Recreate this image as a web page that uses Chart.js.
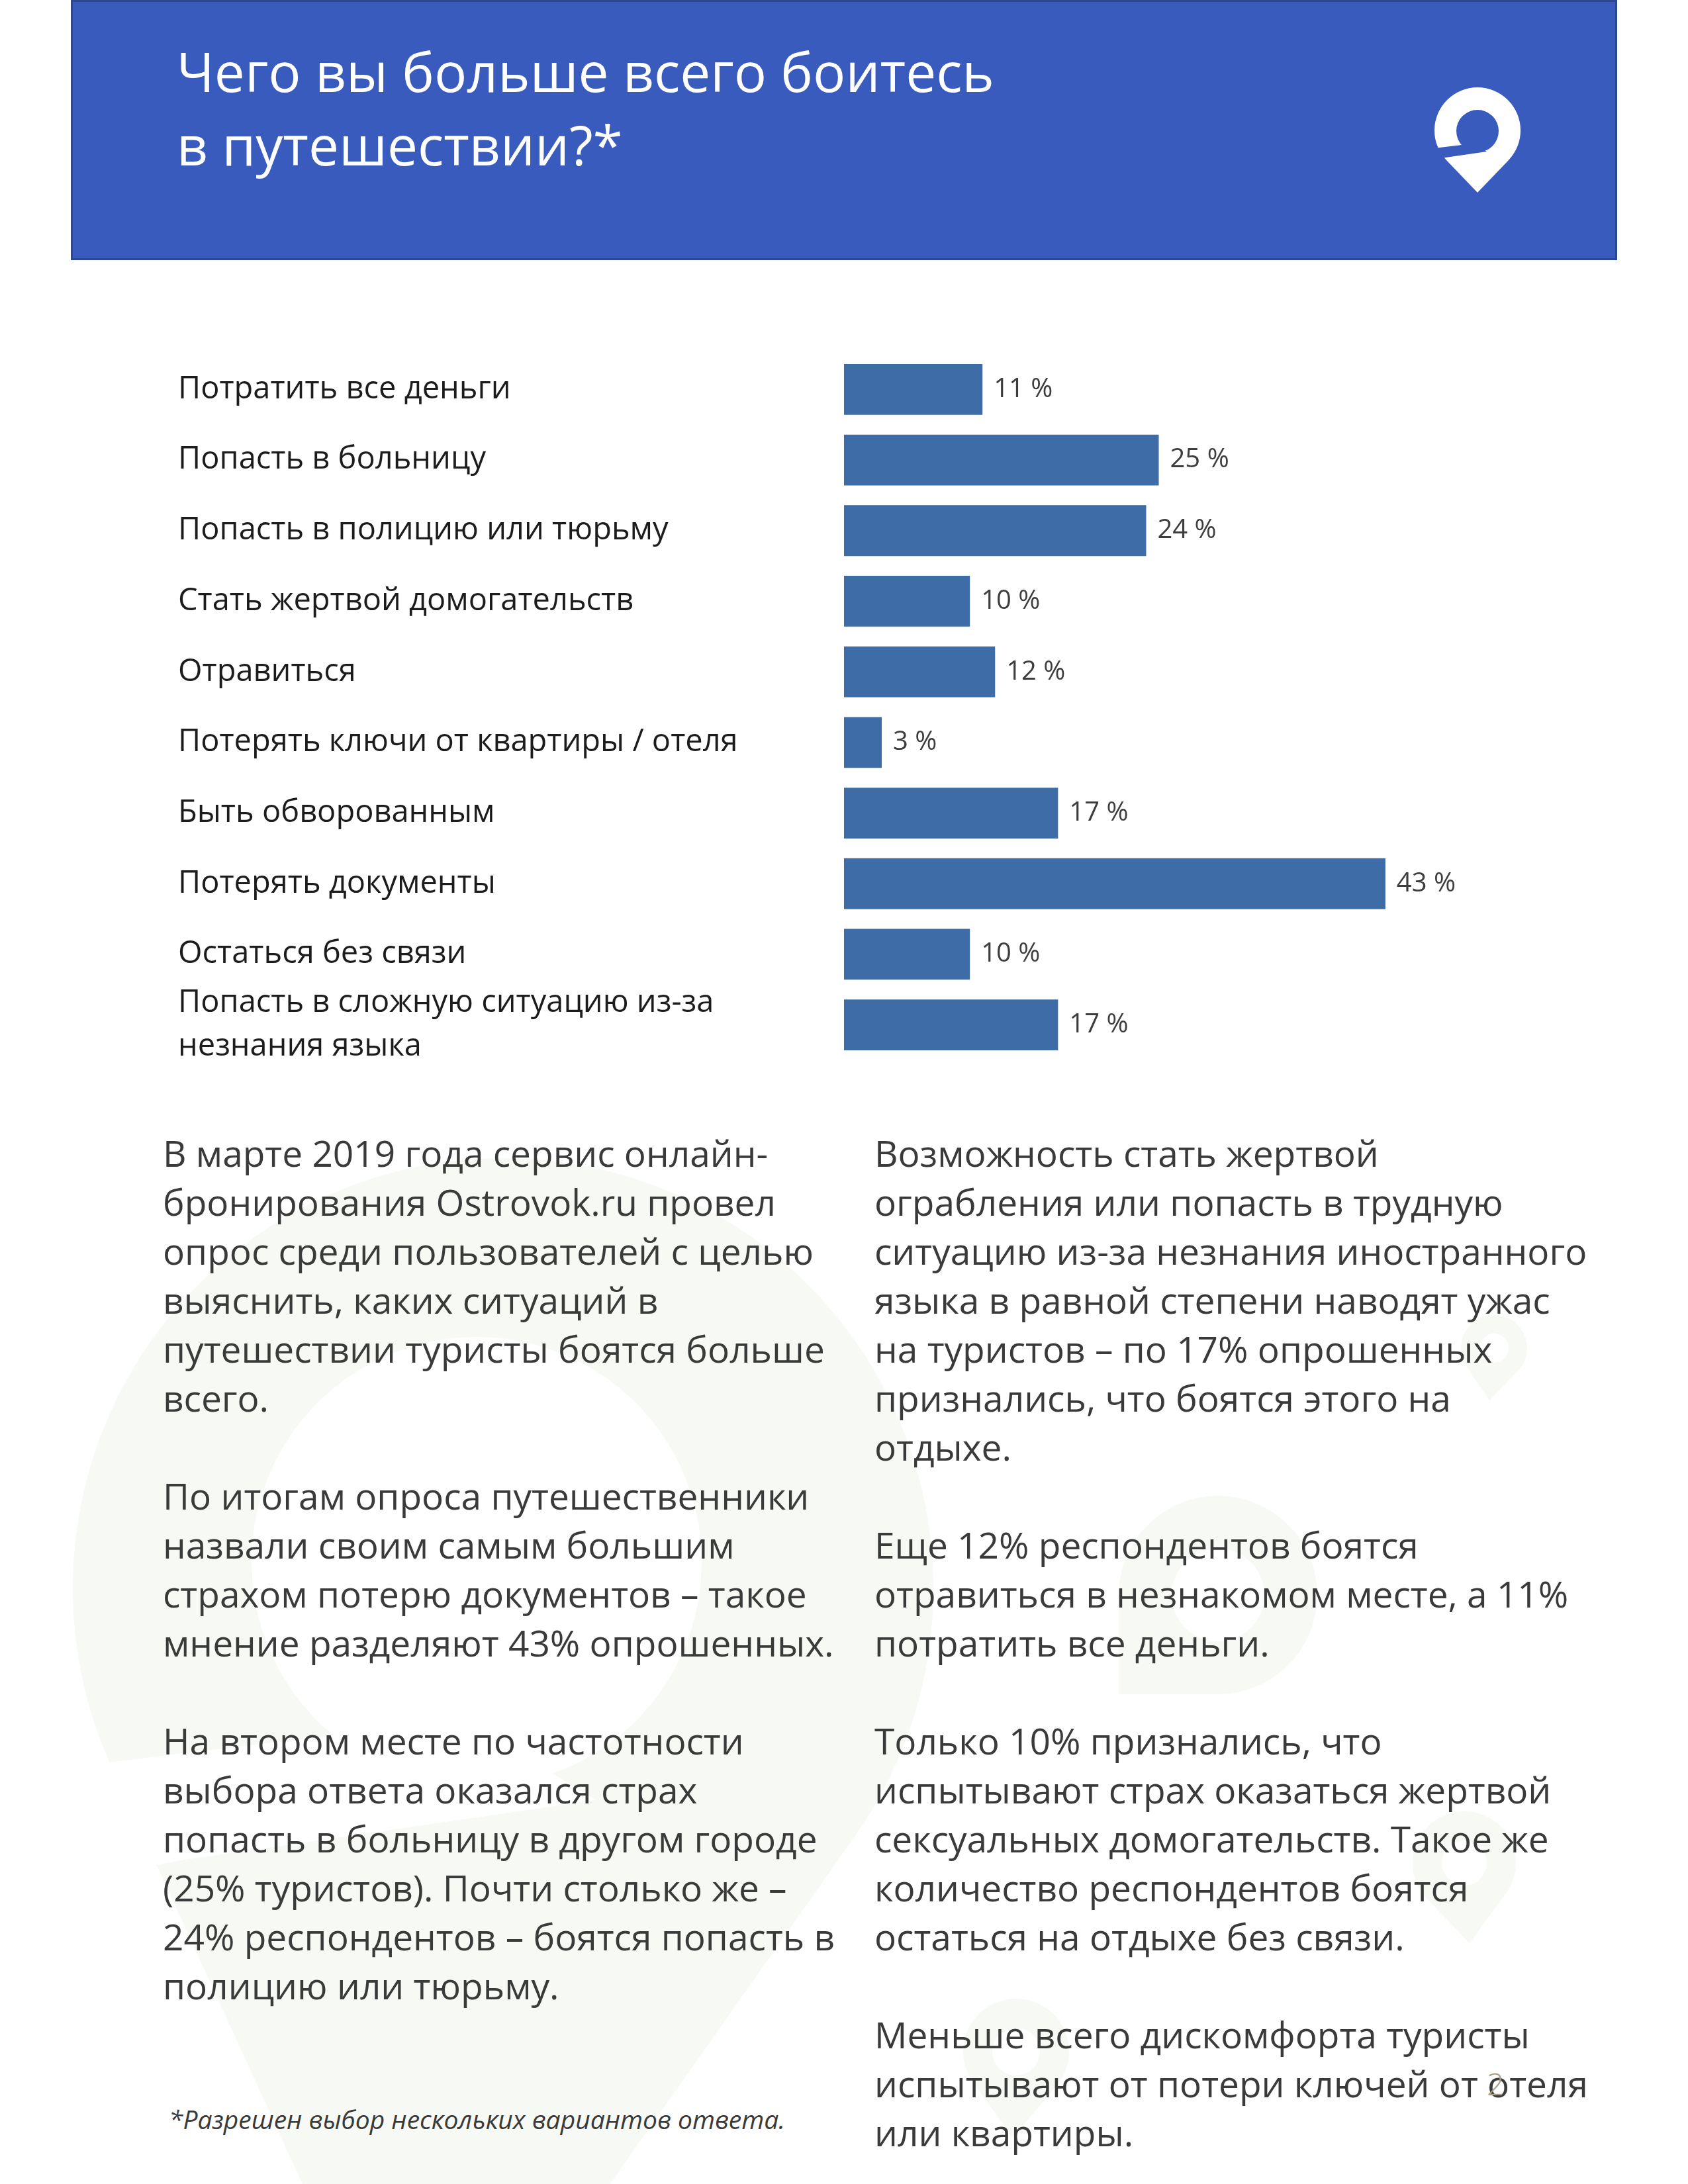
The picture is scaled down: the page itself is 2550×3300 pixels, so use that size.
<!DOCTYPE html>
<html lang="ru">
<head>
<meta charset="utf-8">
<title>Чего вы больше всего боитесь в путешествии?</title>
<script src="https://cdn.jsdelivr.net/npm/chart.js@4/dist/chart.umd.min.js"></script>
<style>
  html, body { margin: 0; padding: 0; }
  body {
    width: 2550px; height: 3300px; position: relative; overflow: hidden;
    background: #ffffff; font-family: 'Open Sans', 'Noto Sans', sans-serif;
  }
  #watermark { position: absolute; left: 0; top: 0; z-index: 0; }
  .header {
    position: absolute; left: 107px; top: 0; width: 2336px; height: 393px;
    box-sizing: border-box; background: #3a5bbe; border: 3px solid #2c4793;
  }
  .title {
    position: absolute; left: 267px; top: 52px; margin: 0;
    font-size: 82px; line-height: 111px; font-weight: 400; color: #ffffff;
    white-space: nowrap; z-index: 2;
  }
  #logo { position: absolute; left: 0; top: 0; z-index: 2; }
  .chart-box { position: absolute; left: 269px; top: 535px; width: 1957px; height: 1067px; z-index: 1; }
  .col {
    position: absolute; top: 1705px; font-size: 55px; line-height: 74px;
    color: #3a3a3a; white-space: nowrap; z-index: 1;
  }
  .col p { margin: 0 0 74px 0; }
  .left { left: 246px; }
  .right { left: 1321px; }
  .note {
    position: absolute; left: 255px; top: 3175px; font-size: 39px; font-style: italic;
    color: #3a3a3a; white-space: nowrap; z-index: 1;
  }
  .page {
    position: absolute; left: 2246px; top: 3117px; font-size: 46px; color: #a89f84;
    z-index: 1; font-weight: 300;
  }
</style>
</head>
<body>

<svg id="watermark" width="2550" height="3300"></svg>

<div class="header"></div>
<h1 class="title">Чего вы больше всего боитесь<br>в путешествии?*</h1>
<svg id="logo" width="2550" height="400">
  <path fill="#ffffff" d="M2185 242 A65 65 0 1 1 2279 242 L2232 291 Z"/>
  <circle cx="2232" cy="198" r="32" fill="#3a5bbe"/>
  <polygon fill="#3a5bbe" points="2150,226 2208,219 2238,224 2246,229 2184,238 2150,244"/>
</svg>

<div class="chart-box"><canvas id="fearsChart"></canvas></div>

<div class="col left">
  <p>В марте 2019 года сервис онлайн-<br>бронирования Ostrovok.ru провел<br>опрос среди пользователей с целью<br>выяснить, каких ситуаций в<br>путешествии туристы боятся больше<br>всего.</p>
  <p>По итогам опроса путешественники<br>назвали своим самым большим<br>страхом потерю документов – такое<br>мнение разделяют 43% опрошенных.</p>
  <p>На втором месте по частотности<br>выбора ответа оказался страх<br>попасть в больницу в другом городе<br>(25% туристов). Почти столько же –<br>24% респондентов – боятся попасть в<br>полицию или тюрьму.</p>
</div>

<div class="col right">
  <p>Возможность стать жертвой<br>ограбления или попасть в трудную<br>ситуацию из-за незнания иностранного<br>языка в равной степени наводят ужас<br>на туристов – по 17% опрошенных<br>признались, что боятся этого на<br>отдыхе.</p>
  <p>Еще 12% респондентов боятся<br>отравиться в незнакомом месте, а 11%<br>потратить все деньги.</p>
  <p>Только 10% признались, что<br>испытывают страх оказаться жертвой<br>сексуальных домогательств. Такое же<br>количество респондентов боятся<br>остаться на отдыхе без связи.</p>
  <p>Меньше всего дискомфорта туристы<br>испытывают от потери ключей от отеля<br>или квартиры.</p>
</div>

<div class="note">*Разрешен выбор нескольких вариантов ответа.</div>
<div class="page">2</div>

<script>
// survey answers, top to bottom
const fears = [
    'Потратить все деньги',
    'Попасть в больницу',
    'Попасть в полицию или тюрьму',
    'Стать жертвой домогательств',
    'Отравиться',
    'Потерять ключи от квартиры / отеля',
    'Быть обворованным',
    'Потерять документы',
    'Остаться без связи',
    ['Попасть в сложную ситуацию из-за', 'незнания языка']
];
const shares = [11, 25, 24, 10, 12, 3, 17, 43, 10, 17];

const barColor = '#3e6ca6';
const labelColor = '#1c1c1c';
const valueColor = '#3d3d3d';

// faint pin shapes in the page background
function pinPath(cx, cy, r, tx, ty, hole) {
    const vx = tx - cx, vy = ty - cy;
    const d = Math.hypot(vx, vy);
    const base = Math.atan2(vy, vx);
    const a = Math.acos(r / d);
    const p1 = [cx + r * Math.cos(base + a), cy + r * Math.sin(base + a)];
    const p2 = [cx + r * Math.cos(base - a), cy + r * Math.sin(base - a)];
    let path = `M${p1[0]} ${p1[1]} A${r} ${r} 0 1 1 ${p2[0]} ${p2[1]} L${tx} ${ty} Z`;
    if (hole) {
        path += ` M${hole[0] - hole[2]} ${hole[1]} a${hole[2]} ${hole[2]} 0 1 0 ${hole[2] * 2} 0 a${hole[2]} ${hole[2]} 0 1 0 ${-hole[2] * 2} 0 Z`;
    }
    return path;
}
const wm = document.getElementById('watermark');
const wmColor = '#f7f9f4';
function addShape(tag, attrs) {
    const el = document.createElementNS('http://www.w3.org/2000/svg', tag);
    Object.keys(attrs).forEach(k => el.setAttribute(k, attrs[k]));
    wm.appendChild(el);
}
addShape('path', { d: pinPath(760, 2400, 650, 640, 3700, [720, 2360, 340]), fill: wmColor, 'fill-rule': 'evenodd' });
addShape('polygon', { points: '-60,2690 520,2620 820,2670 900,2720 280,2810 -60,2870', fill: '#ffffff' });
addShape('path', { d: pinPath(1840, 2410, 150, 1690, 2560, [1840, 2410, 70]), fill: wmColor, 'fill-rule': 'evenodd' });
addShape('path', { d: pinPath(2257, 2037, 50, 2250, 2116, [2257, 2037, 22]), fill: wmColor, 'fill-rule': 'evenodd' });
addShape('path', { d: pinPath(2212, 2815, 78, 2220, 2936, [2212, 2815, 34]), fill: wmColor, 'fill-rule': 'evenodd' });
addShape('path', { d: pinPath(1535, 3100, 80, 1530, 3230, [1535, 3100, 36]), fill: wmColor, 'fill-rule': 'evenodd' });

// percentage text at the end of each bar
const valueLabels = {
    id: 'valueLabels',
    afterDatasetsDraw(chart) {
        const ctx = chart.ctx;
        const meta = chart.getDatasetMeta(0);
        ctx.save();
        ctx.font = '40px "Open Sans"';
        ctx.fillStyle = valueColor;
        ctx.textAlign = 'left';
        ctx.textBaseline = 'middle';
        meta.data.forEach((bar, i) => {
            ctx.fillText(shares[i] + ' %', bar.x + 17, bar.y);
        });
        ctx.restore();
    }
};

function drawChart() {
    const ctx = document.getElementById('fearsChart').getContext('2d');
    new Chart(ctx, {
        type: 'bar',
        data: {
            labels: fears,
            datasets: [{
                data: shares,
                backgroundColor: barColor,
                borderWidth: 0,
                barPercentage: 0.72,
                categoryPercentage: 1
            }]
        },
        options: {
            indexAxis: 'y',
            responsive: true,
            maintainAspectRatio: false,
            animation: false,
            layout: { padding: 0 },
            scales: {
                x: { display: false, min: 0, max: 50 },
                y: {
                    grid: { display: false, drawTicks: false },
                    border: { display: false },
                    ticks: {
                        autoSkip: false,
                        color: labelColor,
                        crossAlign: 'far',
                        padding: 0,
                        font: { family: 'Open Sans', size: 47, lineHeight: 1.4 }
                    },
                    afterFit(scale) {
                        // labels sit inside their category rows, no extra room needed
                        scale.width = 1006;
                        scale.paddingTop = 0;
                        scale.paddingBottom = 0;
                    }
                }
            },
            plugins: {
                legend: { display: false },
                tooltip: { enabled: false }
            }
        },
        plugins: [valueLabels]
    });
}

document.fonts.load('47px "Open Sans"').then(drawChart, drawChart);
</script>
</body>
</html>
